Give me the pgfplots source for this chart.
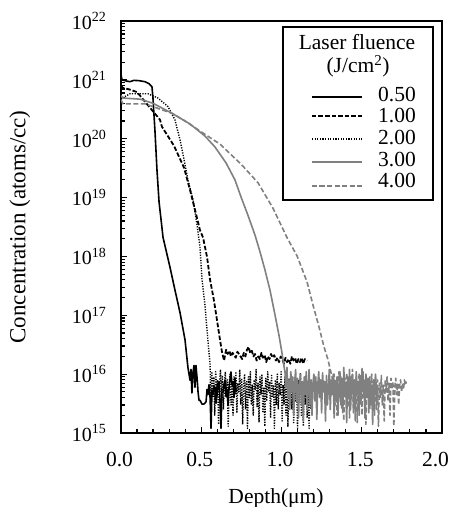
\documentclass[border=0pt]{standalone}
\usepackage{fontspec}
\setmainfont{Liberation Serif}
\usepackage{pgfplots}
\pgfplotsset{compat=1.18}
\definecolor{mygray}{RGB}{128,128,128}
\newcommand{\bigfont}{\fontsize{21.5}{25}\selectfont}
\begin{document}
\begin{tikzpicture}[font=\bigfont]
\begin{axis}[
 at={(0,0)}, anchor=south west,
 scale only axis, width=321pt, height=412pt,
 xmin=0, xmax=2, ymin=1e15, ymax=1e22,
 ymode=log,
 axis line style={line width=1.5pt},
 xtick={0,0.5,1,1.5,2}, xticklabels={0.0,0.5,1.0,1.5,{2.0\hspace*{10pt}}},
 minor x tick num=4,
 ytick={1e15,1e16,1e17,1e18,1e19,1e20,1e21,1e22},
 yticklabels={10\textsuperscript{15},10\textsuperscript{16},10\textsuperscript{17},10\textsuperscript{18},10\textsuperscript{19},10\textsuperscript{20},10\textsuperscript{21},10\textsuperscript{22}},
 minor ytick={2e15,3e15,4e15,5e15,6e15,7e15,8e15,9e15,
  2e16,3e16,4e16,5e16,6e16,7e16,8e16,9e16,
  2e17,3e17,4e17,5e17,6e17,7e17,8e17,9e17,
  2e18,3e18,4e18,5e18,6e18,7e18,8e18,9e18,
  2e19,3e19,4e19,5e19,6e19,7e19,8e19,9e19,
  2e20,3e20,4e20,5e20,6e20,7e20,8e20,9e20,
  2e21,3e21,4e21,5e21,6e21,7e21,8e21,9e21},
 xtick pos=bottom, ytick pos=left,
 tick align=inside,
 major tick length=6pt, minor tick length=4pt,
 every tick/.style={black, line width=1.2pt},
 xticklabel style={font=\bigfont, yshift=-16pt, xshift=-1.5pt},
 yticklabel style={font=\fontsize{20}{24}\selectfont, xshift=-11pt},
 xlabel={Depth(μm)}, ylabel={Concentration (atoms/cc)},
 xlabel style={font=\bigfont, at={(axis description cs:0.483,-0.17)}, anchor=base},
 ylabel style={font=\fontsize{23}{27}\selectfont, at={(axis description cs:-0.315,0.5)}, anchor=center},
 every axis plot/.append style={line join=round},
]
% 0.50 J/cm2
\addplot[black, line width=1.6pt] coordinates {
(0.000,1.25e21)(0.006,1.00e21)(0.030,9.6e20)(0.056,9.3e20)(0.080,9.8e20)(0.110,9.7e20)
(0.150,9.3e20)(0.175,8.6e20)(0.193,7.6e20)(0.199,5.0e20)(0.212,1.3e20)(0.224,3.0e19)
(0.237,8.5e18)(0.262,2.1e18)(0.305,6.6e17)(0.336,2.7e17)(0.368,1.1e17)(0.399,3.8e16)
(0.417,1.3e16)(0.430,7.9e15)(0.436,1.2e16)(0.442,4.8e15)(0.449,1.1e16)(0.455,1.4e16)
(0.461,6.0e15)(0.467,1.4e16)(0.474,8.6e15)(0.480,5.0e15)(0.486,3.6e15)(0.492,3.6e15)
(0.505,3.1e15)(0.517,3.1e15)(0.530,3.4e15)(0.536,5.5e15)(0.542,4.5e15)(0.548,6.6e15)
(0.555,4.0e15)(0.561,1.2e15)(0.567,5.4e15)(0.573,4.5e15)(0.580,6.2e15)(0.586,5.8e15)
(0.592,3.2e15)(0.598,4.3e15)(0.604,7.0e15)(0.611,7.4e15)(0.617,3.5e15)(0.623,1.2e15)
(0.629,4.8e15)(0.636,5.0e15)(0.642,6.8e15)(0.648,7.9e15)(0.654,4.2e15)(0.660,5.5e15)
(0.667,3.0e15)(0.673,5.8e15)(0.679,8.0e15)(0.685,1.09e16)(0.692,6.5e15)(0.698,7.4e15)
(0.704,4.0e15)(0.710,8.6e15)(0.717,5.0e15)(0.723,5.4e15)
};
% 1.00 J/cm2
\addplot[black, line width=1.8pt, dash pattern=on 4.5pt off 2pt] coordinates {
(0.000,8.0e20)(0.012,7.3e20)(0.050,6.9e20)(0.100,6.2e20)(0.168,3.7e20)(0.243,2.1e20)
(0.255,1.6e20)(0.330,7.6e19)(0.393,3.2e19)(0.430,1.35e19)(0.461,6.2e18)(0.492,2.8e18)
(0.511,2.1e18)(0.536,9.8e17)(0.555,4.0e17)(0.579,1.8e17)(0.598,8.3e16)(0.617,3.8e16)
(0.629,2.4e16)(0.642,1.7e16)
(0.655,2.6e16)(0.665,2.2e16)(0.675,2.5e16)(0.685,2.0e16)(0.695,2.3e16)(0.705,2.1e16)
(0.715,1.9e16)(0.725,2.4e16)(0.735,2.2e16)(0.745,2.0e16)(0.755,1.8e16)(0.765,2.3e16)
(0.775,2.0e16)(0.785,2.6e16)(0.795,2.9e16)(0.805,2.3e16)(0.815,2.5e16)(0.825,2.0e16)
(0.835,2.2e16)(0.845,1.7e16)(0.855,2.0e16)(0.865,1.8e16)(0.875,2.3e16)(0.885,1.9e16)
(0.895,2.1e16)(0.905,1.6e16)(0.915,2.0e16)(0.925,1.8e16)(0.935,2.2e16)(0.945,1.9e16)
(0.955,2.1e16)(0.965,1.7e16)(0.975,1.9e16)(0.985,1.6e16)(0.995,2.0e16)(1.005,1.8e16)
(1.015,1.5e16)(1.025,1.9e16)(1.035,1.6e16)(1.045,1.8e16)(1.055,1.5e16)(1.065,2.0e16)
(1.075,1.7e16)(1.085,1.9e16)(1.095,1.5e16)(1.105,1.8e16)(1.115,1.6e16)(1.125,1.9e16)
(1.135,1.5e16)(1.145,1.8e16)(1.160,1.7e16)
};
% 2.00 J/cm2
\addplot[black, line width=1.4pt, dash pattern=on 1.2pt off 1.4pt] coordinates {
(0.000,4.6e20)(0.006,4.9e20)(0.056,5.8e20)(0.168,5.8e20)(0.231,4.9e20)(0.293,3.5e20)
(0.336,2.1e20)(0.368,9.5e19)(0.393,4.4e19)(0.417,2.0e19)(0.449,9.1e18)(0.474,3.4e18)
(0.492,1.45e18)(0.505,4.0e17)(0.523,1.5e17)(0.536,5.6e16)(0.555,1.45e16)
(0.560,3.0e15)(0.566,1.1e16)(0.572,4.0e15)(0.578,9.0e15)(0.584,2.0e15)(0.590,1.1e16)
(0.596,5.0e15)(0.602,8.0e15)(0.608,1.4e15)(0.614,7.0e15)(0.620,1.2e16)(0.626,3.5e15)
(0.632,9.5e15)(0.638,2.5e15)(0.644,6.0e15)(0.650,1.1e16)(0.656,4.0e15)(0.662,8.0e15)
(0.668,1.3e15)(0.674,7.0e15)(0.680,1.0e16)(0.686,3.0e15)(0.692,6.5e15)(0.698,2.0e15)
(0.704,9.0e15)(0.710,4.5e15)(0.716,1.1e16)(0.722,2.2e15)(0.728,7.0e15)(0.734,5.0e15)
(0.740,1.2e16)(0.746,3.0e15)(0.752,8.5e15)(0.758,1.4e15)(0.764,6.0e15)(0.770,1.0e16)
(0.776,2.5e15)(0.782,7.5e15)(0.788,1.2e15)(0.794,9.0e15)(0.800,4.0e15)(0.806,1.1e16)
(0.812,3.0e15)(0.818,6.5e15)(0.824,2.0e15)(0.830,8.0e15)(0.836,5.5e15)(0.842,1.2e16)
(0.848,2.8e15)(0.854,7.0e15)(0.860,1.5e15)(0.866,9.0e15)(0.872,4.5e15)(0.878,1.0e16)
(0.884,2.2e15)(0.890,6.0e15)(0.896,1.3e15)(0.902,8.5e15)(0.908,3.5e15)(0.914,1.1e16)
(0.920,5.0e15)(0.926,7.5e15)(0.932,1.8e15)(0.938,9.5e15)(0.944,4.0e15)(0.950,6.5e15)
(0.956,1.2e15)(0.962,8.0e15)(0.968,3.0e15)(0.974,1.0e16)(0.980,2.5e15)(0.986,7.0e15)
(0.992,4.5e15)(0.998,1.1e16)(1.004,1.6e15)(1.010,6.5e15)(1.016,3.0e15)(1.022,9.0e15)
(1.028,2.0e15)(1.034,7.5e15)(1.040,1.3e15)(1.046,8.5e15)(1.052,4.0e15)(1.058,1.0e16)
(1.064,2.5e15)(1.070,6.0e15)(1.076,1.5e15)(1.082,9.0e15)(1.088,3.5e15)(1.094,7.0e15)
(1.100,1.2e15)(1.106,8.0e15)(1.112,4.5e15)(1.118,1.05e16)(1.124,2.0e15)(1.130,6.5e15)
(1.136,1.3e15)(1.142,7.5e15)(1.148,3.0e15)(1.154,9.0e15)(1.160,1.8e15)(1.166,6.0e15)
(1.172,1.2e15)(1.178,7.0e15)(1.184,2.5e15)(1.190,5.0e15)
};
% 3.00 J/cm2
\addplot[mygray, line width=1.6pt] coordinates {
(0.000,5.4e20)(0.012,4.9e20)(0.118,4.7e20)(0.199,4.0e20)(0.318,2.7e20)(0.430,1.78e20)
(0.523,1.11e20)(0.586,7.2e19)(0.654,3.9e19)(0.710,2.0e19)(0.748,1.02e19)(0.791,5.0e18)
(0.835,2.3e18)(0.866,1.2e18)(0.897,5.9e17)(0.928,2.7e17)(0.960,1.0e17)(0.984,4.6e16)
(1.003,2.3e16)(1.022,1.05e16)
(1.028,6.0e15)(1.034,1.3e16)(1.040,4.0e15)(1.046,8.0e15)(1.052,2.5e15)(1.058,1.1e16)
(1.064,5.0e15)(1.070,9.0e15)(1.076,2.0e15)(1.082,7.0e15)(1.088,1.2e16)(1.094,3.5e15)
(1.100,8.5e15)(1.106,1.8e15)(1.112,6.5e15)(1.118,1.0e16)(1.124,3.0e15)(1.130,7.5e15)
(1.136,1.6e15)(1.142,9.0e15)(1.148,4.5e15)(1.154,1.1e16)(1.160,2.5e15)(1.166,6.0e15)
(1.172,1.2e16)(1.178,3.0e15)(1.184,8.0e15)(1.190,2.0e15)(1.196,7.0e15)(1.202,1.0e16)
(1.208,3.5e15)(1.214,9.0e15)(1.220,1.7e15)(1.226,6.5e15)(1.232,1.1e16)(1.238,4.0e15)
(1.244,8.0e15)(1.250,2.2e15)(1.256,1.05e16)(1.262,5.0e15)(1.268,7.5e15)(1.274,1.6e15)
(1.280,9.5e15)(1.286,3.0e15)(1.292,6.0e15)(1.298,1.2e16)(1.304,2.5e15)(1.310,8.0e15)
(1.316,4.5e15)(1.322,1.0e16)(1.328,1.8e15)(1.334,7.0e15)(1.340,3.5e15)(1.346,9.0e15)
(1.352,2.0e15)(1.358,6.5e15)(1.364,1.1e16)(1.370,3.0e15)(1.376,8.5e15)(1.382,2.2e15)
(1.388,1.3e16)(1.394,5.0e15)(1.400,7.0e15)(1.406,1.5e15)(1.412,9.0e15)(1.418,4.0e15)
(1.424,1.2e16)(1.430,2.5e15)(1.436,6.0e15)(1.442,1.0e16)(1.448,3.0e15)(1.454,8.0e15)
(1.460,1.6e15)(1.466,1.1e16)(1.472,4.5e15)(1.478,7.5e15)(1.484,2.0e15)(1.490,9.5e15)
(1.496,3.5e15)(1.502,1.25e16)(1.508,5.0e15)(1.514,8.0e15)(1.520,1.8e15)(1.526,1.0e16)
(1.532,4.0e15)(1.538,7.0e15)(1.544,2.2e15)(1.550,9.0e15)(1.556,3.0e15)(1.562,6.5e15)
(1.568,1.4e15)(1.574,8.0e15)(1.580,4.5e15)(1.586,1.0e16)(1.592,2.5e15)(1.598,5.5e15)
};
% 4.00 J/cm2
\addplot[mygray, line width=1.6pt, dash pattern=on 5pt off 2.5pt] coordinates {
(0.000,4.6e20)(0.012,3.9e20)(0.150,3.9e20)(0.318,2.7e20)(0.399,2.0e20)(0.492,1.35e20)
(0.617,8.1e19)(0.748,3.7e19)(0.854,1.78e19)(0.947,6.6e18)(1.034,2.1e18)(1.097,1.02e18)
(1.159,3.7e17)(1.196,1.5e17)(1.234,6.3e16)(1.265,2.9e16)(1.290,1.74e16)(1.315,8.9e15)
(1.322,6.0e15)(1.328,1.0e16)(1.334,3.0e15)(1.340,8.0e15)(1.346,2.0e15)(1.352,7.0e15)
(1.358,1.1e16)(1.364,4.0e15)(1.370,9.0e15)(1.376,2.5e15)(1.382,6.5e15)(1.388,1.6e15)
(1.394,8.5e15)(1.400,5.0e15)(1.406,1.05e16)(1.412,3.0e15)(1.418,7.5e15)(1.424,1.8e15)
(1.430,9.0e15)(1.436,4.5e15)(1.442,1.2e16)(1.448,2.2e15)(1.454,7.0e15)(1.460,3.5e15)
(1.466,9.5e15)(1.472,1.5e15)(1.478,6.0e15)(1.484,1.0e16)(1.490,3.0e15)(1.496,8.0e15)
(1.502,2.0e15)(1.508,1.1e16)(1.514,4.0e15)(1.520,7.0e15)(1.526,1.4e15)(1.532,9.0e15)
(1.538,5.0e15)(1.544,8.5e15)(1.550,2.5e15)(1.556,6.5e15)(1.562,1.0e16)(1.568,3.5e15)
(1.574,7.5e15)(1.580,2.0e15)(1.586,9.0e15)(1.592,5.5e15)(1.598,8.0e15)(1.604,1.3e15)
(1.610,7.0e15)(1.616,4.0e15)(1.622,9.5e15)(1.628,3.0e15)(1.634,6.5e15)(1.640,1.6e15)
(1.646,8.0e15)(1.652,5.0e15)(1.658,9.0e15)(1.664,3.5e15)(1.670,7.0e15)(1.676,2.0e15)
(1.682,8.5e15)(1.688,5.5e15)(1.694,7.5e15)(1.700,1.3e15)(1.706,6.0e15)(1.712,8.5e15)
(1.718,4.5e15)(1.724,7.0e15)(1.730,3.0e15)(1.736,6.5e15)(1.742,8.0e15)(1.748,5.0e15)
(1.754,7.0e15)(1.760,5.5e15)(1.766,8.0e15)(1.772,6.5e15)(1.778,7.5e15)
};
\end{axis}
% legend
\draw[line width=1.5pt, fill=white] (162pt,233pt) rectangle (312pt,406pt);
\node[anchor=base, inner sep=0pt] at (236pt,383pt) {Laser fluence};
\node[anchor=base, inner sep=0pt] at (237pt,360pt) {(J/cm\textsuperscript{2})};
\draw[black, line width=1.6pt] (191pt,336pt) -- (241pt,336pt);
\draw[black, line width=1.8pt, dash pattern=on 4.5pt off 2pt] (191pt,317pt) -- (241pt,317pt);
\draw[black, line width=1.4pt, dash pattern=on 1.2pt off 1.4pt] (191pt,294pt) -- (241pt,294pt);
\draw[mygray, line width=1.6pt] (191pt,271pt) -- (241pt,271pt);
\draw[mygray, line width=1.6pt, dash pattern=on 5pt off 2.5pt] (191pt,247pt) -- (241pt,247pt);
\node[anchor=base west, inner sep=0pt] at (257pt,331pt) {0.50};
\node[anchor=base west, inner sep=0pt] at (257pt,310pt) {1.00};
\node[anchor=base west, inner sep=0pt] at (257pt,288pt) {2.00};
\node[anchor=base west, inner sep=0pt] at (257pt,266pt) {3.00};
\node[anchor=base west, inner sep=0pt] at (257pt,245pt) {4.00};
\pgfresetboundingbox
\useasboundingbox (-121pt,-74pt) rectangle (331pt,433pt);
\end{tikzpicture}
\end{document}
